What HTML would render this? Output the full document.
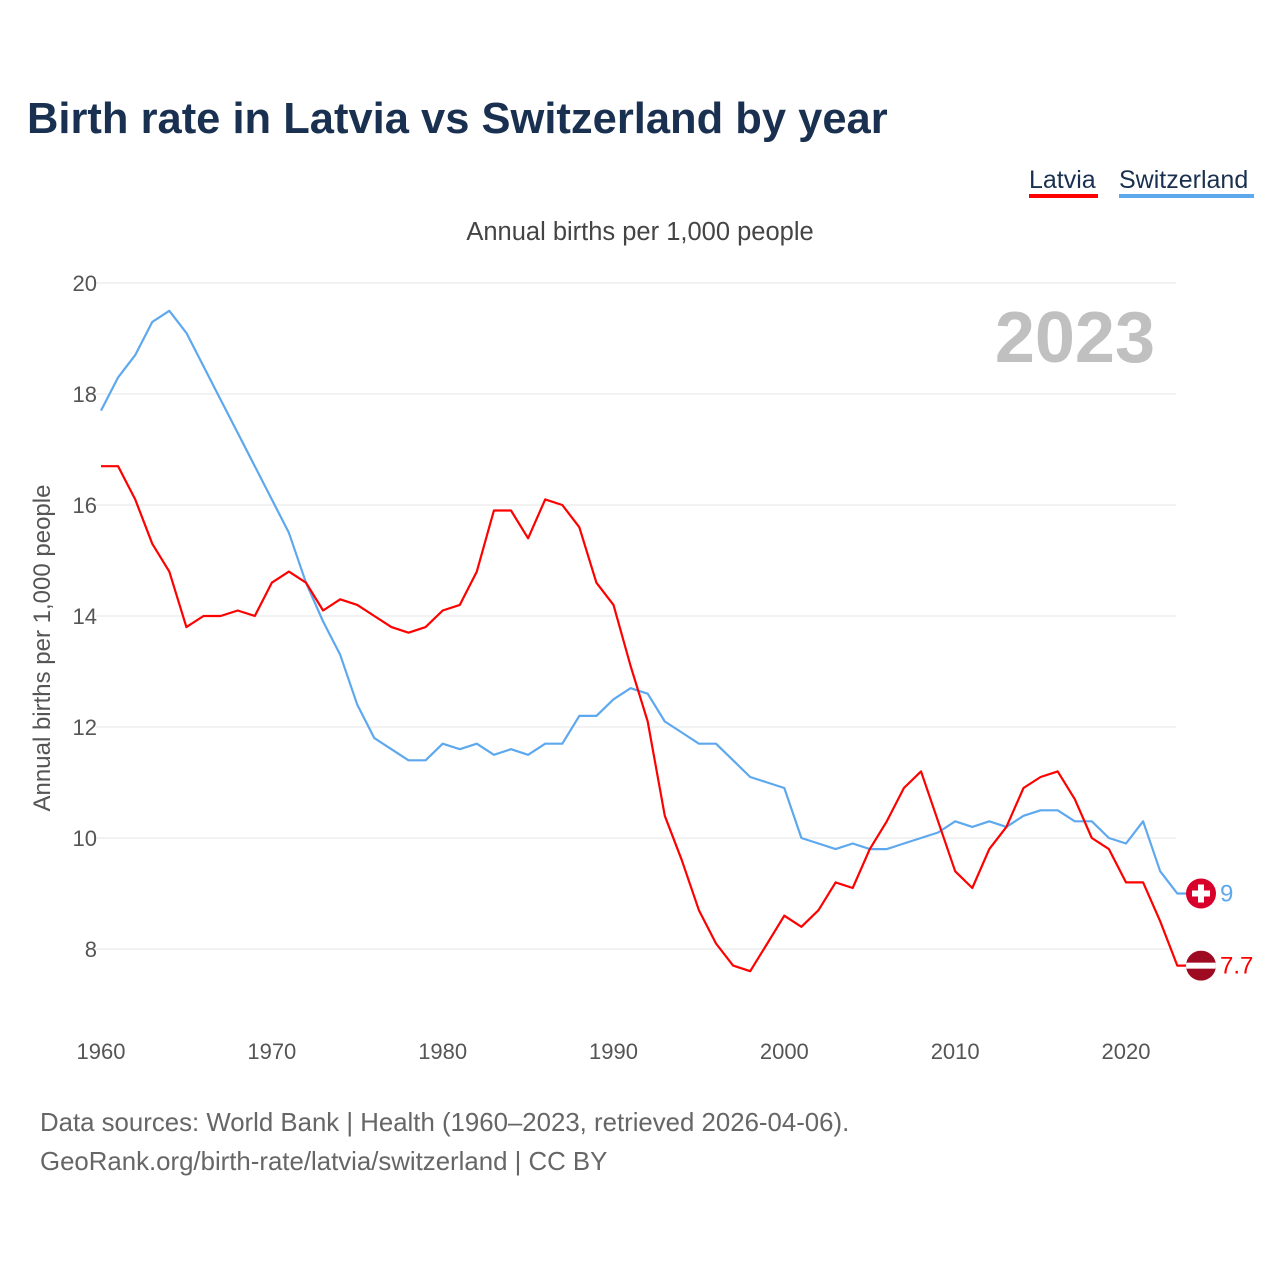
<!DOCTYPE html>
<html><head><meta charset="utf-8"><style>
body{margin:0;background:#fff;font-family:"Liberation Sans",sans-serif}
</style></head><body>
<svg width="1280" height="1280" viewBox="0 0 1280 1280" xmlns="http://www.w3.org/2000/svg">
<rect width="1280" height="1280" fill="#fff"/>
<text x="27" y="133" font-size="43.5" font-weight="bold" fill="#1a3050">Birth rate in Latvia vs Switzerland by year</text>
<g>
<text x="1029" y="188" font-size="25" fill="#1a3050">Latvia</text>
<rect x="1029" y="194" width="69" height="4" fill="#ff0000"/>
<text x="1119" y="188" font-size="25" fill="#1a3050">Switzerland</text>
<rect x="1119" y="194" width="135" height="4" fill="#5ea8ee"/>
</g>
<text x="640" y="240" font-size="25.5" fill="#444" text-anchor="middle">Annual births per 1,000 people</text>
<text x="1155" y="362" font-size="72" font-weight="bold" fill="#c0c0c0" text-anchor="end">2023</text>
<text transform="translate(50,648) rotate(-90)" font-size="24" fill="#555" text-anchor="middle">Annual births per 1,000 people</text>
<g id="grid"></g><g id="ylab"></g><g id="xlab"></g><g id="lines"></g><g id="ends"></g>
<text x="40" y="1131" font-size="25.8" fill="#666">Data sources: World Bank | Health (1960–2023, retrieved 2026-04-06).</text>
<text x="40" y="1170" font-size="25.8" fill="#666">GeoRank.org/birth-rate/latvia/switzerland | CC BY</text>
</svg>
<script>
const years=[];for(let y=1960;y<=2023;y++)years.push(y);
const latvia=[16.7,16.7,16.1,15.3,14.8,13.8,14.0,14.0,14.1,14.0,14.6,14.8,14.6,14.1,14.3,14.2,14.0,13.8,13.7,13.8,14.1,14.2,14.8,15.9,15.9,15.4,16.1,16.0,15.6,14.6,14.2,13.1,12.1,10.4,9.6,8.7,8.1,7.7,7.6,8.1,8.6,8.4,8.7,9.2,9.1,9.8,10.3,10.9,11.2,10.3,9.4,9.1,9.8,10.2,10.9,11.1,11.2,10.7,10.0,9.8,9.2,9.2,8.5,7.7];
const switzerland=[17.7,18.3,18.7,19.3,19.5,19.1,18.5,17.9,17.3,16.7,16.1,15.5,14.6,13.9,13.3,12.4,11.8,11.6,11.4,11.4,11.7,11.6,11.7,11.5,11.6,11.5,11.7,11.7,12.2,12.2,12.5,12.7,12.6,12.1,11.9,11.7,11.7,11.4,11.1,11.0,10.9,10.0,9.9,9.8,9.9,9.8,9.8,9.9,10.0,10.1,10.3,10.2,10.3,10.2,10.4,10.5,10.5,10.3,10.3,10.0,9.9,10.3,9.4,9.0];
const yTicks=[8,10,12,14,16,18,20];
const xTicks=[1960,1970,1980,1990,2000,2010,2020];
const NS="http://www.w3.org/2000/svg";
const X=y=>101+(y-1960)*(1126-101)/60;
const Y=v=>949-(v-8)*(949-283)/12;
function mk(t,a,p){const e=document.createElementNS(NS,t);for(const k in a)e.setAttribute(k,a[k]);p.appendChild(e);return e;}
const grid=document.getElementById('grid'),yl=document.getElementById('ylab'),xl=document.getElementById('xlab');
yTicks.forEach(v=>{
 const l=mk('line',{x1:96,x2:1176,y1:Y(v),y2:Y(v),stroke:'#e6e6e6','stroke-width':1},grid);
 
 
 const t=mk('text',{x:97,y:Y(v)+8,'font-size':22,fill:'#555','text-anchor':'end'},yl);t.textContent=v;
 
 
});
xTicks.forEach(v=>{
 const t=mk('text',{x:X(v),y:1059,'font-size':22,fill:'#555','text-anchor':'middle'},xl);t.textContent=v;
 
 
});
const lines=document.getElementById('lines');
function series(vals,col,name){
 const d=vals.map((v,i)=>(i?'L':'M')+X(years[i]).toFixed(1)+' '+Y(v).toFixed(1)).join(' ')+' L1195 '+Y(vals[vals.length-1]).toFixed(1);
 const p=mk('path',{d:d,fill:'none',stroke:col,'stroke-width':2.2,'stroke-linejoin':'round'},lines);
 
 
}
series(switzerland,'#5ea8ee','switzerland');
series(latvia,'#ff0000','latvia');
const ends=document.getElementById('ends');
const sv=switzerland[switzerland.length-1],lv=latvia[latvia.length-1];
let g=mk('g',{},ends);


mk('circle',{cx:1201,cy:Y(sv),r:15,fill:'#d8002a'},g);
mk('rect',{x:1198,y:Y(sv)-9,width:6,height:18,fill:'#fff'},g);
mk('rect',{x:1192,y:Y(sv)-3,width:18,height:6,fill:'#fff'},g);
let t=mk('text',{x:1220,y:Y(sv)+8,'font-size':24,fill:'#5ea8ee'},ends);t.textContent=sv;


g=mk('g',{},ends);


const cp=mk('clipPath',{id:'lvc'},g);mk('circle',{cx:1201,cy:Y(lv),r:15},cp);
mk('rect',{x:1186,y:Y(lv)-15,width:30,height:30,fill:'#9e0a22','clip-path':'url(#lvc)'},g);
mk('rect',{x:1186,y:Y(lv)-3,width:30,height:6,fill:'#fff','clip-path':'url(#lvc)'},g);
t=mk('text',{x:1220,y:Y(lv)+8,'font-size':24,fill:'#ff0000'},ends);t.textContent=lv;


</script>
</body></html>
